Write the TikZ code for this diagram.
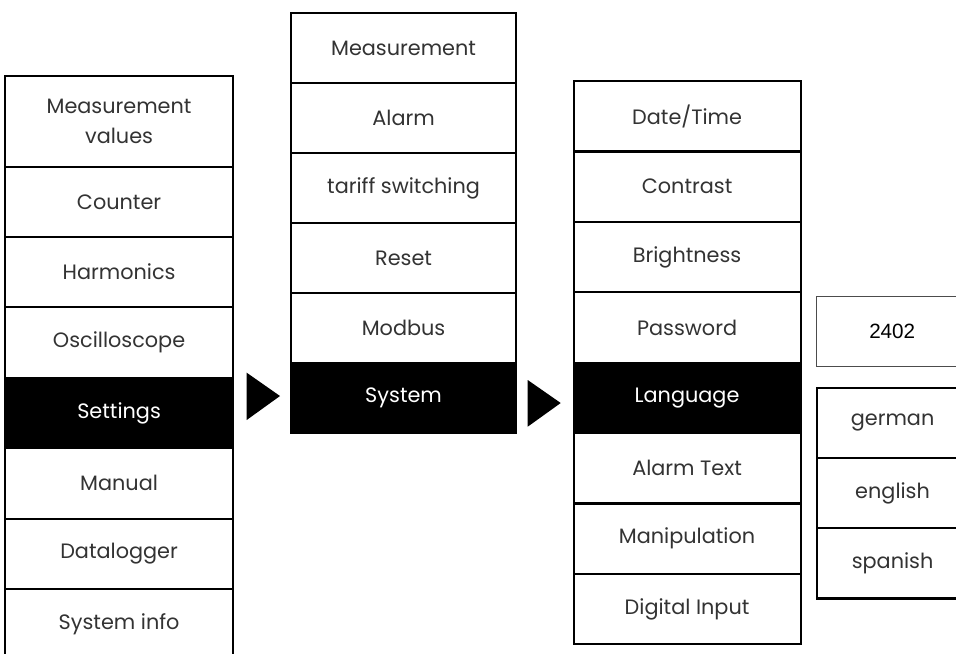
\documentclass[tikz,border=0pt]{standalone}
\usepackage{fontspec}
\setmainfont{Poppins}
\newfontfamily\arialfont{Liberation Sans}
\begin{document}
\begin{tikzpicture}[x=0.75pt,y=-0.75pt,
  cell/.style={draw=black,line width=1.6pt,fill=white,anchor=north west,inner sep=0pt,
    align=center,font=\fontsize{15.6}{22.5}\selectfont,text=black!80},
  selcell/.style={cell,fill=black,text=white},
  pointer/.style={fill=black}]
\useasboundingbox (0,0) rectangle (956,653);
% column 1
\node[cell,minimum width=228*0.75pt,minimum height=90.5*0.75pt] (c1a) at (4,75) {Measurement\\values};
\foreach \n/\t [count=\i from 0] in {c1b/Counter,c1c/Harmonics,c1d/Oscilloscope}{
  \node[cell,minimum width=228*0.75pt,minimum height=70.4*0.75pt] (\n) at (4,165.5+70.4*\i) {\t};}
\node[selcell,minimum width=228*0.75pt,minimum height=70.4*0.75pt] (c1e) at (4,165.5+70.4*3) {Settings};
\foreach \n/\t [count=\i from 4] in {c1f/Manual,c1g/Datalogger,c1h/System info}{
  \node[cell,minimum width=228*0.75pt,minimum height=70.4*0.75pt] (\n) at (4,165.5+70.4*\i) {\t};}
% column 2
\foreach \n/\t [count=\i from 0] in {c2a/Measurement,c2b/Alarm,c2c/tariff switching,c2d/Reset,c2e/Modbus}{
  \node[cell,minimum width=225*0.75pt,minimum height=70*0.75pt] (\n) at (290,12+70*\i) {\t};}
\node[selcell,minimum width=225*0.75pt,minimum height=70*0.75pt] (c2f) at (290,12+70*5) {System};
% column 3
\foreach \n/\t [count=\i from 0] in {c3a/Date\slash Time,c3b/Contrast,c3c/Brightness,c3d/Password}{
  \node[cell,minimum width=227*0.75pt,minimum height=70.4*0.75pt] (\n) at (572.5,80+70.4*\i) {\t};}
\node[selcell,minimum width=227*0.75pt,minimum height=70.4*0.75pt] (c3e) at (572.5,80+70.4*4) {Language};
\foreach \n/\t [count=\i from 5] in {c3f/Alarm Text,c3g/Manipulation,c3h/Digital Input}{
  \node[cell,minimum width=227*0.75pt,minimum height=70.4*0.75pt] (\n) at (572.5,80+70.4*\i) {\t};}
% column 4
\node[cell,draw=black!70,line width=1.1pt,minimum width=170*0.75pt,minimum height=70.3*0.75pt,
  font=\arialfont\fontsize{15.5}{18}\selectfont,text=black] (pw) at (815.5,295.7) {\hspace*{-13.5pt}2402};
\foreach \n/\t [count=\i from 0] in {l1/german,l2/english,l3/spanish}{
  \node[cell,minimum width=170*0.75pt,minimum height=70.2*0.75pt] (\n) at (815.5,386.8+70.2*\i) {\hspace*{-13.5pt}\t};}
% pointers
\fill[pointer] (246.7,372.7) -- (280,396) -- (246.7,420) -- cycle;
\fill[pointer] (527.7,380) -- (560.7,403) -- (527.7,426.7) -- cycle;
\end{tikzpicture}
\end{document}
